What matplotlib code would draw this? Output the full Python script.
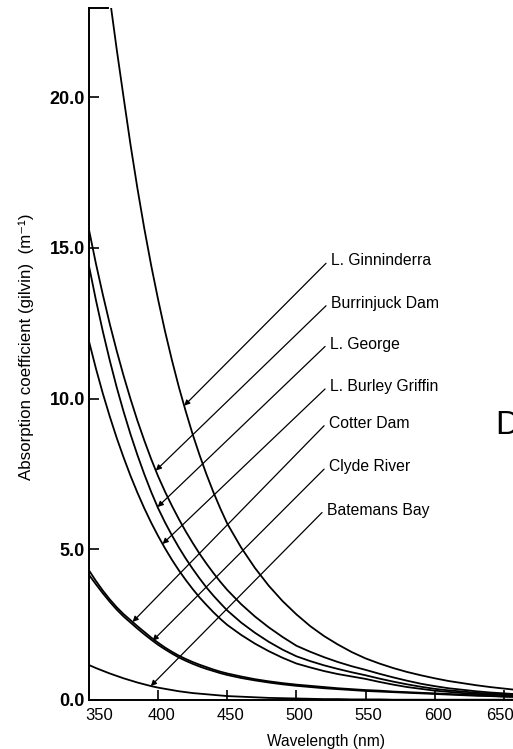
import numpy as np
import matplotlib
matplotlib.use("Agg")
import matplotlib.pyplot as plt
from matplotlib.transforms import ScaledTranslation

plt.rcParams['font.family'] = ['Liberation Sans', 'DejaVu Sans']

# ---- data ----
wavelength = [350, 355, 360, 365, 370, 375, 380, 385, 390, 395, 400, 405, 410, 415,
              420, 425, 430, 435, 440, 445, 450,
              460, 470, 480, 490, 500, 510, 520, 530, 540, 550, 560, 570, 580, 590,
              600, 610, 620, 630, 640, 650, 660]

ginninderra = [29.4, 27.2, 25.2, 23.3, 21.6, 20.0, 18.43, 16.98, 15.64, 14.41, 13.28,
               12.23, 11.27, 10.38, 9.57, 8.81, 8.12, 7.48, 6.89, 6.35, 5.85,
               5.06, 4.38, 3.79, 3.28, 2.84, 2.45, 2.12, 1.84, 1.59, 1.38, 1.21, 1.06,
               0.93, 0.82, 0.72, 0.63, 0.56, 0.49, 0.43, 0.38, 0.33]
burrinjuck = [15.6, 14.48, 13.45, 12.48, 11.59, 10.76, 9.99, 9.27, 8.61, 7.99, 7.42,
              6.91, 6.44, 6.00, 5.59, 5.21, 4.85, 4.52, 4.21, 3.92, 3.65,
              3.18, 2.77, 2.41, 2.09, 1.80, 1.60, 1.42, 1.26, 1.12, 1.00, 0.87, 0.75,
              0.64, 0.54, 0.46, 0.39, 0.34, 0.29, 0.25, 0.22, 0.19]
george = [14.4, 13.27, 12.23, 11.27, 10.38, 9.57, 8.82, 8.13, 7.49, 6.90, 6.36,
          5.89, 5.46, 5.06, 4.69, 4.35, 4.03, 3.73, 3.46, 3.21, 2.97,
          2.57, 2.23, 1.93, 1.67, 1.45, 1.29, 1.15, 1.03, 0.92, 0.82, 0.71, 0.61,
          0.52, 0.44, 0.37, 0.32, 0.28, 0.24, 0.21, 0.19, 0.17]
burley_griffin = [11.9, 11.0, 10.17, 9.41, 8.70, 8.05, 7.44, 6.88, 6.36, 5.88, 5.44,
                  5.03, 4.65, 4.30, 3.98, 3.68, 3.40, 3.15, 2.91, 2.69, 2.49,
                  2.16, 1.87, 1.62, 1.40, 1.21, 1.08, 0.96, 0.86, 0.78, 0.70, 0.60, 0.51,
                  0.43, 0.37, 0.31, 0.27, 0.23, 0.20, 0.18, 0.16, 0.14]
cotter = [4.30, 3.95, 3.63, 3.34, 3.08, 2.85, 2.65, 2.45, 2.26, 2.07, 1.90,
          1.74, 1.60, 1.47, 1.36, 1.26, 1.17, 1.09, 1.01, 0.94, 0.88,
          0.78, 0.69, 0.62, 0.56, 0.51, 0.47, 0.43, 0.39, 0.36, 0.33, 0.31, 0.28,
          0.26, 0.24, 0.22, 0.20, 0.18, 0.16, 0.14, 0.12, 0.11]
clyde = [4.15, 3.84, 3.54, 3.26, 3.00, 2.77, 2.57, 2.37, 2.18, 2.00, 1.83,
         1.68, 1.54, 1.41, 1.30, 1.20, 1.11, 1.03, 0.96, 0.89, 0.83,
         0.73, 0.65, 0.58, 0.52, 0.47, 0.43, 0.39, 0.36, 0.33, 0.30, 0.28, 0.26,
         0.24, 0.22, 0.20, 0.18, 0.16, 0.14, 0.13, 0.11, 0.10]
batemans = [1.16, 1.06, 0.97, 0.88, 0.80, 0.72, 0.65, 0.58, 0.52, 0.46, 0.41,
            0.37, 0.33, 0.29, 0.26, 0.23, 0.21, 0.19, 0.17, 0.15, 0.13,
            0.11, 0.09, 0.07, 0.06, 0.05, 0.04, 0.03, 0.03, 0.02, 0.02, 0.02, 0.01,
            0.01, 0.01, 0.01, 0.01, 0.01, 0.01, 0.01, 0.01, 0.01]

labels = ['L. Ginninderra', 'Burrinjuck Dam', 'L. George', 'L. Burley Griffin',
          'Cotter Dam', 'Clyde River', 'Batemans Bay']
series = [ginninderra, burrinjuck, george, burley_griffin, cotter, clyde, batemans]
arrow_tip_wl = [418.8, 398.3, 399.6, 403.2, 381.5, 396.0, 394.7]
label_x = [525.0, 525.0, 524.3, 524.3, 523.6, 523.6, 522.1]
label_y = [14.57, 13.16, 11.81, 10.40, 9.18, 7.74, 6.30]

x_ticks = [350, 400, 450, 500, 550, 600, 650]
y_ticks = [0, 5, 10, 15, 20]
y_tick_labels = ['0.0', '5.0', '10.0', '15.0', '20.0']

# ---- figure ----
W, H = 513, 749
fig = plt.figure(figsize=(W / 100, H / 100), dpi=100)
ax = fig.add_axes([89 / W, (H - 700) / H, (W - 89) / W, (700 - 8) / H])

for vals in series:
    ax.plot(wavelength, vals, color='black', lw=1.3, solid_capstyle='round',
            solid_joinstyle='round')

ax.set_xlim(350, 656.6)
ax.set_ylim(0, 22.96)

for sp in ['top', 'right']:
    ax.spines[sp].set_visible(False)
for sp in ['left', 'bottom']:
    ax.spines[sp].set_linewidth(1.4)

# small cap at the top of the y axis
ax.plot([350, 363.5], [22.96, 22.96], color='black', lw=1.4, clip_on=False)

ax.set_xticks(x_ticks)
ax.set_xticklabels([str(v) for v in x_ticks], fontsize=12)
ax.set_yticks(y_ticks)
ax.set_yticklabels(y_tick_labels, fontsize=13, fontweight='bold')
ax.tick_params(axis='both', direction='in', length=7, width=1.2)
ax.tick_params(axis='x', pad=6)
ax.tick_params(axis='y', pad=3)

# shift x tick labels slightly: first one right, last one left to stay inside
xl = ax.get_xticklabels()
for i, lab in enumerate(xl):
    dx = 10 if i == 0 else (-4 if i == len(xl) - 1 else 3)
    lab.set_transform(lab.get_transform() + ScaledTranslation(dx / 100, 0, fig.dpi_scale_trans))

ax.set_xlabel('Wavelength (nm)', fontsize=11.2)
ax.xaxis.set_label_coords((326 - 89) / (W - 89), -0.049)
ax.set_ylabel('Absorption coefficient (gilvin)  (m⁻¹)', fontsize=12.2)
ax.yaxis.set_label_coords(-0.129, 0.51)

# curve labels with leader arrows
for name, vals, twl, lx, ly in zip(labels, series, arrow_tip_wl, label_x, label_y):
    tv = float(np.interp(twl, wavelength, vals))
    ax.text(lx, ly, name, fontsize=11.3, ha='left', va='center')
    ax.annotate('', xy=(twl, tv), xytext=(lx - 3.6, ly - 0.08),
                arrowprops=dict(arrowstyle='-|>', lw=0.9, color='black',
                                mutation_scale=8, shrinkA=0, shrinkB=0))

fig.text(495 / W, 1 - 425 / H, 'D', fontsize=24, ha='left', va='center')

fig.savefig('out.png', dpi=100)
